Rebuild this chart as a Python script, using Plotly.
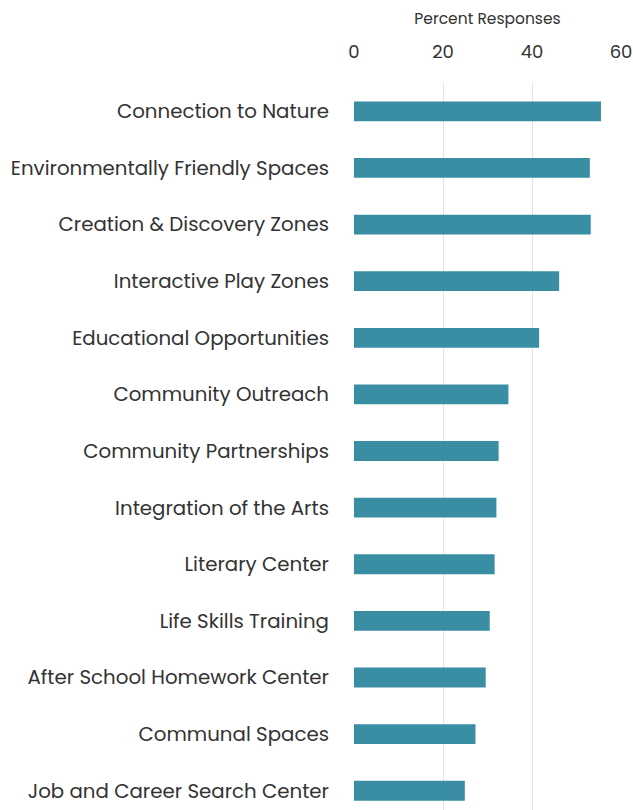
import plotly.graph_objects as go

# survey categories (top to bottom) and percent of responses
categories = [
    "Connection to Nature",
    "Environmentally Friendly Spaces",
    "Creation & Discovery Zones",
    "Interactive Play Zones",
    "Educational Opportunities",
    "Community Outreach",
    "Community Partnerships",
    "Integration of the Arts",
    "Literary Center",
    "Life Skills Training",
    "After School Homework Center",
    "Communal Spaces",
    "Job and Career Search Center",
]
percent = [55.5, 53.0, 53.2, 46.1, 41.6, 34.7, 32.5, 32.0, 31.6, 30.5, 29.6, 27.3, 24.9]

tick_vals = [0, 20, 40, 60]

bar_color = "#3a8ea3"
text_color = "#333333"
font_family = "Poppins, Lato, 'Open Sans', sans-serif"

fig = go.Figure(go.Bar(
    x=percent,
    y=categories,
    orientation="h",
    marker=dict(color=bar_color, line=dict(width=0)),
    width=0.35,
))

fig.update_layout(
    width=633,
    height=810,
    margin=dict(l=354, r=12, t=83, b=0),
    plot_bgcolor="white",
    paper_bgcolor="white",
    font=dict(family=font_family, color=text_color, size=19),
    showlegend=False,
)

fig.update_xaxes(
    side="top",
    range=[0, 60],
    tickvals=tick_vals,
    tickfont=dict(size=18, color=text_color),
    ticklabelstandoff=20,
    showgrid=True,
    gridcolor="#e3e3e3",
    gridwidth=1,
    zeroline=False,
    showline=False,
    title=dict(text="Percent Responses", font=dict(size=15.5, color=text_color), standoff=10),
)

fig.update_yaxes(
    categoryorder="array",
    categoryarray=categories,
    range=[12.34, -0.5],
    tickfont=dict(size=19.8, color=text_color),
    ticklabelstandoff=24,
    showgrid=False,
    zeroline=False,
    showline=False,
)

# drop the default page margin so the figure sits at the window's corner
fig.write_html(
    "out.html",
    config={"displayModeBar": False},
    post_script="document.body.style.margin='0';",
)
